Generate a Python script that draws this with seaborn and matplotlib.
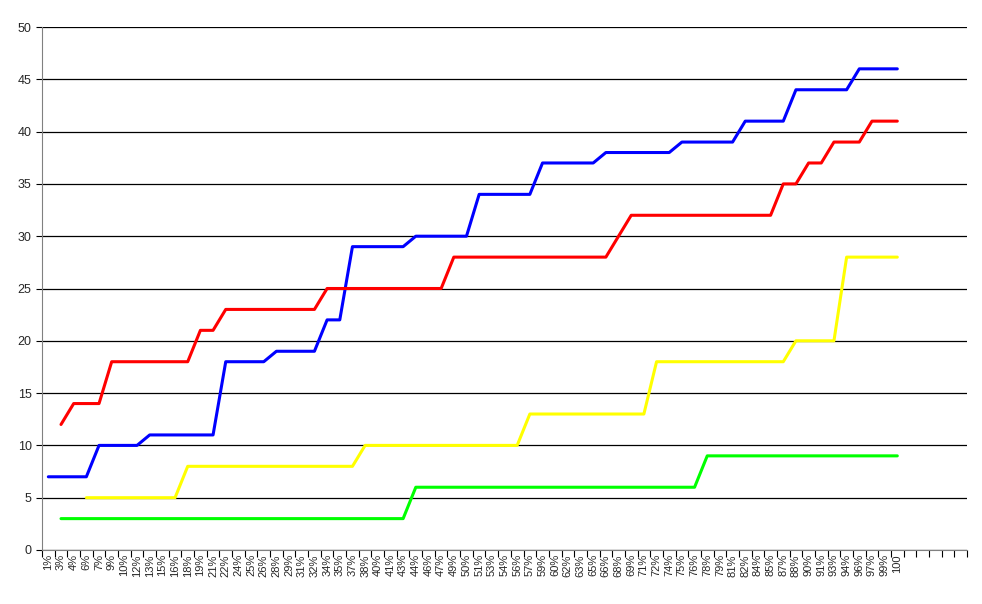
import matplotlib
matplotlib.use("Agg")
import matplotlib.pyplot as plt
import seaborn as sns
import numpy as np
import pandas as pd

labels = ["1%","3%","4%","6%","7%","9%","10%","12%","13%","15%","16%","18%","19%","21%","22%","24%","25%","26%","28%","29%","31%","32%","34%","35%","37%","38%","40%","41%","43%","44%","46%","47%","49%","50%","51%","53%","54%","56%","57%","59%","60%","62%","63%","65%","66%","68%","69%","71%","72%","74%","75%","76%","78%","79%","81%","82%","84%","85%","87%","88%","90%","91%","93%","94%","96%","97%","99%","100"]
N = None
blue = [7,7,7,7,10,10,10,10,11,11,11,11,11,11,18,18,18,18,19,19,19,19,22,22,29,29,29,29,29,30,30,30,30,30,34,34,34,34,34,37,37,37,37,37,38,38,38,38,38,38,39,39,39,39,39,41,41,41,41,44,44,44,44,44,46,46,46,46]
red = [N,12,14,14,14,18,18,18,18,18,18,18,21,21,23,23,23,23,23,23,23,23,25,25,25,25,25,25,25,25,25,25,28,28,28,28,28,28,28,28,28,28,28,28,28,30,32,32,32,32,32,32,32,32,32,32,32,32,35,35,37,37,39,39,39,41,41,41]
yellow = [N,N,N,5,5,5,5,5,5,5,5,8,8,8,8,8,8,8,8,8,8,8,8,8,8,10,10,10,10,10,10,10,10,10,10,10,10,10,13,13,13,13,13,13,13,13,13,13,18,18,18,18,18,18,18,18,18,18,18,20,20,20,20,28,28,28,28,28]
green = [N,3,3,3,3,3,3,3,3,3,3,3,3,3,3,3,3,3,3,3,3,3,3,3,3,3,3,3,3,6,6,6,6,6,6,6,6,6,6,6,6,6,6,6,6,6,6,6,6,6,6,6,9,9,9,9,9,9,9,9,9,9,9,9,9,9,9,9]
n_empty = 5

sns.set_style("white")
fig = plt.figure(figsize=(9.82, 6.04), dpi=100)
ax = fig.add_axes([42/982, 1-550/604, 925/982, 523/604])
idx = np.arange(len(labels))
for vals, col in [(blue, "#0000FF"), (red, "#FF0000"), (yellow, "#FFFF00"), (green, "#00FF00")]:
    df = pd.DataFrame({"x": idx, "y": pd.array(vals, dtype="Float64").astype(float)}).dropna()
    sns.lineplot(data=df, x="x", y="y", color=col, lw=2.2, ax=ax)

total = len(labels) + n_empty
ax.set_xlim(-0.5, total - 0.5)
ax.set_ylim(0, 50)
ax.set_yticks(range(0, 51, 5))
ax.yaxis.grid(True, color="black", lw=0.9)
ax.set_axisbelow(True)
ax.set_xticks(idx)
ax.set_xticklabels(labels, rotation=90, fontsize=8, family="Liberation Sans")
ax.tick_params(axis="x", which="major", length=0, pad=3, bottom=True)
ax.set_xticks(np.arange(-0.5, total, 1), minor=True)
ax.tick_params(axis="x", which="minor", length=5, width=0.8, color="black", direction="out", bottom=True)
ax.tick_params(axis="y", length=4, width=0.8, color="black", direction="out", labelsize=9, left=True)
for l in ax.get_yticklabels():
    l.set_family("Liberation Sans")
ax.set_xlabel("")
ax.set_ylabel("")
for s in ["top", "right"]:
    ax.spines[s].set_visible(False)
ax.spines["left"].set_color("gray")
ax.spines["bottom"].set_color("gray")
fig.savefig("out.png", dpi=100)
